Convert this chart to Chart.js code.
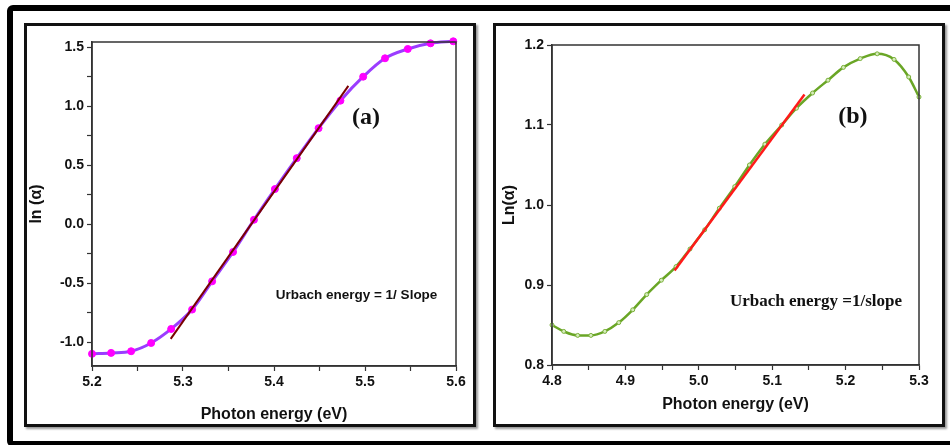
<!DOCTYPE html>
<html>
<head>
<meta charset="utf-8">
<script src="https://cdn.jsdelivr.net/npm/chart.js@4.4.1/dist/chart.umd.min.js"></script>
<style>
  body { margin: 0; width: 950px; height: 445px; overflow: hidden; background: #fff; position: relative; }
  .outer { position: absolute; left: 7px; top: 5px; width: 960px; height: 442px; box-sizing: border-box; border: 6px solid #000; border-radius: 6px; }
  .panel { position: absolute; top: 23px; width: 452px; height: 404px; box-sizing: border-box; border: 3px solid #111; box-shadow: 2px 2px 2px #999; }
  #pa { left: 24px; }
  #pb { left: 493px; }
  .wrap { position: absolute; top: 26px; width: 446px; height: 398px; }
  #wa { left: 27px; }
  #wb { left: 496px; }
</style>
</head>
<body>
<div class="outer"></div>
<div class="panel" id="pa"></div>
<div class="panel" id="pb"></div>
<div class="wrap" id="wa"><canvas id="chartA"></canvas></div>
<div class="wrap" id="wb"><canvas id="chartB"></canvas></div>
<script>
// panel (a)
const aEnergy = [5.200, 5.221, 5.243, 5.265, 5.287, 5.310, 5.332, 5.355, 5.378, 5.401,
                 5.425, 5.449, 5.473, 5.498, 5.522, 5.547, 5.572, 5.597];
const aLnAlpha = [-1.097, -1.089, -1.075, -1.005, -0.886, -0.722, -0.483, -0.234, 0.039, 0.299,
                  0.561, 0.815, 1.048, 1.251, 1.407, 1.486, 1.534, 1.551];
const aFitEnergy = [5.2865, 5.4817];
const aFitLn = [-0.970, 1.173];
const aXTicks = [5.2, 5.3, 5.4, 5.5, 5.6];
const aXMinor = [5.25, 5.35, 5.45, 5.55];
const aYTicks = [-1.0, -0.5, 0.0, 0.5, 1.0, 1.5];
const aYMinor = [-0.75, -0.25, 0.25, 0.75, 1.25];

// panel (b)
const bEnergy = [4.800, 4.816, 4.835, 4.853, 4.872, 4.891, 4.910, 4.929, 4.949, 4.969,
                 4.988, 5.008, 5.028, 5.049, 5.069, 5.090, 5.113, 5.133, 5.155, 5.176,
                 5.197, 5.220, 5.243, 5.266, 5.286, 5.300];
const bLnAlpha = [0.850, 0.842, 0.837, 0.837, 0.842, 0.853, 0.869, 0.888, 0.906, 0.923,
                  0.945, 0.969, 0.996, 1.023, 1.050, 1.076, 1.100, 1.121, 1.140, 1.156,
                  1.172, 1.183, 1.189, 1.182, 1.160, 1.135];
const bFitEnergy = [4.967, 5.144];
const bFitLn = [0.918, 1.138];
const bXTicks = [4.8, 4.9, 5.0, 5.1, 5.2, 5.3];
const bXMinor = [4.85, 4.95, 5.05, 5.15, 5.25];
const bYTicks = [0.8, 0.9, 1.0, 1.1, 1.2];
const bYMinor = [];

const pts = (xs, ys) => xs.map((x, i) => ({ x: x, y: ys[i] }));
const tickList = (major, minor) => major.concat(minor).sort((p, q) => p - q).map(v => ({ value: v }));
const tickFont = { family: '"Liberation Sans", Arial, sans-serif', size: 14, weight: 'bold' };
const titleFont = { family: '"Liberation Sans", Arial, sans-serif', size: 16, weight: 'bold' };

// box around the plot area
const frameBox = {
  id: 'frameBox',
  afterDatasetsDraw(chart) {
    const { ctx, chartArea: a } = chart;
    ctx.save();
    ctx.strokeStyle = '#333';
    ctx.lineWidth = 1.5;
    ctx.strokeRect(a.left, a.top, a.right - a.left, a.bottom - a.top);
    ctx.restore();
  }
};

// text notes placed in data coordinates
const notes = {
  id: 'notes',
  afterDraw(chart, args, opts) {
    const { ctx, scales } = chart;
    (opts.items || []).forEach(n => {
      ctx.save();
      ctx.font = n.font;
      ctx.fillStyle = '#111';
      ctx.textAlign = 'center';
      ctx.textBaseline = 'middle';
      ctx.fillText(n.text, scales.x.getPixelForValue(n.x), scales.y.getPixelForValue(n.y));
      ctx.restore();
    });
  }
};

function axis(range, major, minor, fitSize, isX, title, titlePad) {
  return {
    type: 'linear',
    position: isX ? 'bottom' : 'left',
    min: range[0],
    max: range[1],
    afterBuildTicks: s => { s.ticks = tickList(major, minor); },
    afterFit: s => { if (isX) s.height = fitSize; else s.width = fitSize; },
    ticks: {
      autoSkip: false,
      maxRotation: 0,
      padding: 3,
      color: '#111',
      font: tickFont,
      callback: v => major.includes(v) ? v.toFixed(1) : ''
    },
    grid: { drawOnChartArea: false, tickLength: 5, tickColor: '#333', tickWidth: 1.2 },
    border: { color: '#333', width: 1.5 },
    title: { display: true, text: title, color: '#111', font: titleFont, padding: titlePad }
  };
}

function makeChart(id, cfg) {
  return new Chart(document.getElementById(id), {
    type: 'scatter',
    data: {
      datasets: [
        {
          data: pts(cfg.fitX, cfg.fitY),
          showLine: true,
          borderColor: cfg.fitColor,
          borderWidth: cfg.fitWidth,
          pointRadius: 0
        },
        {
          data: pts(cfg.xs, cfg.ys),
          showLine: true,
          clip: false,
          cubicInterpolationMode: 'monotone',
          borderColor: cfg.lineColor,
          borderWidth: cfg.lineWidth,
          pointRadius: cfg.pointRadius,
          pointBackgroundColor: cfg.pointFill,
          pointBorderColor: cfg.pointEdge,
          pointBorderWidth: 1
        }
      ]
    },
    options: {
      responsive: true,
      maintainAspectRatio: false,
      animation: false,
      layout: { padding: cfg.padding },
      plugins: {
        legend: { display: false },
        tooltip: { enabled: false },
        notes: { items: cfg.notes }
      },
      scales: {
        x: axis(cfg.xRange, cfg.xTicks, cfg.xMinor, cfg.xFit, true, 'Photon energy (eV)', { top: 2, bottom: 0 }),
        y: axis(cfg.yRange, cfg.yTicks, cfg.yMinor, cfg.yFit, false, cfg.yTitle, { top: 0, bottom: 0 })
      }
    },
    plugins: [frameBox, notes]
  });
}

makeChart('chartA', {
  xs: aEnergy, ys: aLnAlpha, fitX: aFitEnergy, fitY: aFitLn,
  xTicks: aXTicks, xMinor: aXMinor, yTicks: aYTicks, yMinor: aYMinor,
  xRange: [5.2, 5.6], yRange: [-1.2, 1.545],
  lineColor: '#9b3cff', lineWidth: 3, pointRadius: 3.5, pointFill: '#ff00ff', pointEdge: '#ff00ff',
  fitColor: '#7a0000', fitWidth: 2,
  padding: { left: 0, top: 16, right: 17, bottom: 0 }, xFit: 58, yFit: 65,
  yTitle: 'ln (α)',
  notes: [
    { text: '(a)', x: 5.501, y: 0.90, font: 'bold 24px "Liberation Serif", "Times New Roman", serif' },
    { text: 'Urbach energy = 1/ Slope', x: 5.4907, y: -0.604, font: 'bold 13.5px "Liberation Sans", Arial, sans-serif' }
  ]
});

makeChart('chartB', {
  xs: bEnergy, ys: bLnAlpha, fitX: bFitEnergy, fitY: bFitLn,
  xTicks: bXTicks, xMinor: bXMinor, yTicks: bYTicks, yMinor: bYMinor,
  xRange: [4.8, 5.3], yRange: [0.8, 1.2],
  lineColor: '#6aa626', lineWidth: 2.5, pointRadius: 2, pointFill: '#d6ecbc', pointEdge: '#7ab03a',
  fitColor: '#ff1a1a', fitWidth: 2.5,
  padding: { left: 4, top: 19, right: 23, bottom: 10 }, xFit: 49, yFit: 52,
  yTitle: 'Ln(α)',
  notes: [
    { text: '(b)', x: 5.210, y: 1.110, font: 'bold 24px "Liberation Serif", "Times New Roman", serif' },
    { text: 'Urbach energy =1/slope', x: 5.1597, y: 0.879, font: 'bold 17px "Liberation Serif", "Times New Roman", serif' }
  ]
});
</script>
</body>
</html>
